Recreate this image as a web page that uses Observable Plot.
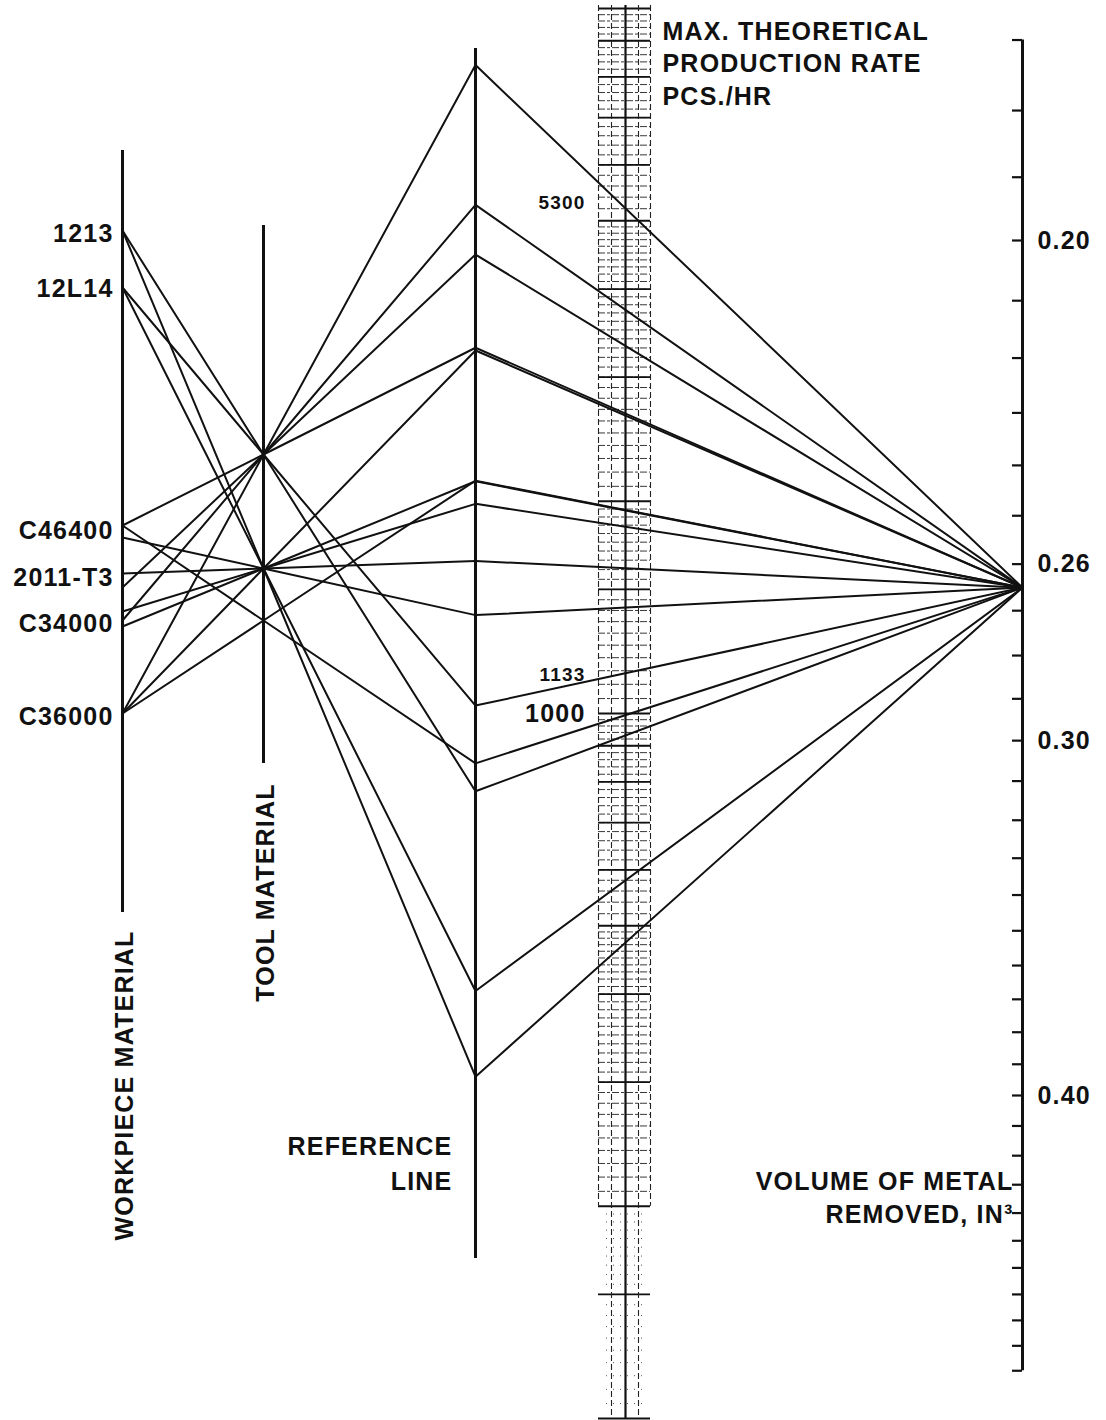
<!DOCTYPE html>
<html><head><meta charset="utf-8">
<script src="https://cdn.jsdelivr.net/npm/d3@7"></script>
<script src="https://cdn.jsdelivr.net/npm/@observablehq/plot@0.6"></script>
<style>
body{margin:0;background:#fff;}
#chart svg text{letter-spacing:1.2px;}
</style></head><body><div id="chart"></div>
<script>
// ---------- data ----------
const workpieceNames = ["1213","12L14","C46400","2011-T3","C34000","C36000"];
const workpieceLabelPos = [233,288,530,577,623,716];        // position on the workpiece scale
const toolNames = ["A","B","C"];
const toolPos = [454,568,620];                               // points on the tool-material scale
const lineWorkpiece = ["C36000","C34000","2011-T3","C46400","12L14","1213",
                       "C36000","C34000","C34000","2011-T3","C46400","12L14","1213",
                       "C46400","C36000"];
const lineTool      = ["A","A","A","A","A","A","B","B","B","B","B","B","B","C","C"];
const lineStartPos  = [713,620,587,525,287,230,713,626,611,573,537,287,230,525,713];
const volumeRemoved = 0.265;                                 // in^3, common pivot of all lines
const rateLabels = [5300,1133,1000];
const rateLabelSize = [19,19,25];
const volumeTickLabels = [0.20,0.26,0.30,0.40];

// ---------- layout ----------
const W = 1106, H = 1420;
const X = {work:122, tool:263, ref:475, rate:625, vol:1022};
const ext = {work:[150,912], tool:[225,763], ref:[48,1258]};
const strip = {x0:598, x1:650};
const FONT = "'Liberation Sans', Arial, Helvetica, sans-serif";

// nomogram scales (log scales of the original chart)
const rateY = d3.scaleLog().domain([100,10000]).range([1418,8]);
const volY  = d3.scaleLog().domain([0.2,0.4]).range([240,1095]);

const kRef = (X.ref - X.work) / (X.tool - X.work);
const lines = lineWorkpiece.map((w,i) => {
  const t = toolPos[toolNames.indexOf(lineTool[i])];
  const w0 = lineStartPos[i];
  return {id:i, w0, t, r: w0 + (t - w0) * kRef};
});
const pivot = volY(volumeRemoved);
const leftPts  = lines.flatMap(l => [{id:l.id,x:X.work,y:l.w0},{id:l.id,x:X.tool,y:l.t},{id:l.id,x:X.ref,y:l.r}]);
const rightPts = lines.flatMap(l => [{id:l.id,x:X.ref,y:l.r},{id:l.id,x:X.vol,y:pivot}]);

// graph-paper strip of the production-rate scale
const majorRates = [100,150,200,300,400,500,600,700,800,900,1000,1500,2000,3000,4000,5000,6000,7000,8000,9000,10000];
const minorRates = [];
[100,1000].forEach(d => {
  if (d === 1000) d3.range(1.05,2,0.05).forEach(m => minorRates.push(m*d));
  d3.range(2.1,5,0.1).forEach(m => minorRates.push(m*d));
  d3.range(5.2,10,0.2).forEach(m => minorRates.push(m*d));
});
const sparseRates = d3.range(105,200,5);
const volTicks = d3.range(17,51).map(i => i/100);

const ink = "#111";
const chart = Plot.plot({
  width: W, height: H, margin: 0,
  style: {fontFamily: FONT, background: "#fff"},
  x: {domain:[0,W], range:[0,W], axis:null},
  y: {domain:[0,H], range:[0,H], axis:null},
  marks: [
    // production-rate graph paper
    Plot.ruleY(minorRates, {y: d => rateY(d), x1: strip.x0, x2: strip.x1, stroke:"#222", strokeWidth:0.9, strokeDasharray:"7,2,3,2"}),
    Plot.ruleY(sparseRates, {y: d => rateY(d), x1: strip.x0+8, x2: strip.x1-8, stroke:"#555", strokeWidth:1, strokeDasharray:"1,6"}),
    Plot.ruleY(majorRates, {y: d => rateY(d), x1: strip.x0, x2: strip.x1, stroke:ink, strokeWidth:1.8}),
    Plot.ruleX([611,638], {x: d => d, y1: rateY(10000)-3, y2: rateY(100), stroke:"#222", strokeWidth:1.1, strokeDasharray:"6,3"}),
    Plot.ruleX([strip.x0, strip.x1], {x: d => d, y1: rateY(10000)-3, y2: rateY(200), stroke:"#222", strokeWidth:1.1, strokeDasharray:"6,3"}),
    Plot.ruleX([X.rate], {x: d => d, y1: rateY(10000)-3, y2: rateY(100), stroke:ink, strokeWidth:2.2}),
    // nomogram axes
    Plot.ruleX([X.work], {x: d => d, y1: ext.work[0], y2: ext.work[1], stroke:ink, strokeWidth:3}),
    Plot.ruleX([X.tool], {x: d => d, y1: ext.tool[0], y2: ext.tool[1], stroke:ink, strokeWidth:3}),
    Plot.ruleX([X.ref],  {x: d => d, y1: ext.ref[0],  y2: ext.ref[1],  stroke:ink, strokeWidth:3}),
    Plot.ruleX([X.vol],  {x: d => d, y1: volY(0.17), y2: volY(0.50), stroke:ink, strokeWidth:3}),
    Plot.ruleY(volTicks, {y: d => volY(d), x1: X.vol-10, x2: X.vol, stroke:ink, strokeWidth:2.2}),
    // solution lines
    Plot.line(leftPts,  {x:"x", y:"y", z:"id", stroke:ink, strokeWidth:2}),
    Plot.line(rightPts, {x:"x", y:"y", z:"id", stroke:ink, strokeWidth:2}),
    // labels
    Plot.text(workpieceNames, {x: X.work-9, y: (d,i) => workpieceLabelPos[i], text: d => d, textAnchor:"end", fontSize:25, fontWeight:"bold", fill:ink}),
    Plot.text(rateLabels, {x: 585, y: d => rateY(d), text: d => String(d), textAnchor:"end", fontSize:(d,i) => rateLabelSize[i], fontWeight:"bold", fill:ink}),
    Plot.text(volumeTickLabels, {x: X.vol+15, y: d => volY(d), text: d => d.toFixed(2), textAnchor:"start", fontSize:25, fontWeight:"bold", fill:ink}),
    Plot.text(["WORKPIECE MATERIAL"], {x: X.work+2, y: 1085, rotate:-90, fontSize:25, fontWeight:"bold", fill:ink}),
    Plot.text(["TOOL MATERIAL"], {x: X.tool+2, y: 892, rotate:-90, fontSize:25, fontWeight:"bold", fill:ink}),
    Plot.text(["REFERENCE\nLINE"], {x: 452, y: 1130, textAnchor:"end", lineAnchor:"top", lineHeight:1.4, fontSize:25, fontWeight:"bold", fill:ink}),
    Plot.text(["MAX. THEORETICAL\nPRODUCTION RATE\nPCS./HR"], {x: 662, y: 16, textAnchor:"start", lineAnchor:"top", lineHeight:1.3, fontSize:25, fontWeight:"bold", fill:ink}),
    Plot.text(["VOLUME OF METAL\nREMOVED, IN³"], {x: 1013, y: 1166, textAnchor:"end", lineAnchor:"top", lineHeight:1.32, fontSize:25, fontWeight:"bold", fill:ink})
  ]
});
document.getElementById("chart").appendChild(chart);
</script></body></html>
